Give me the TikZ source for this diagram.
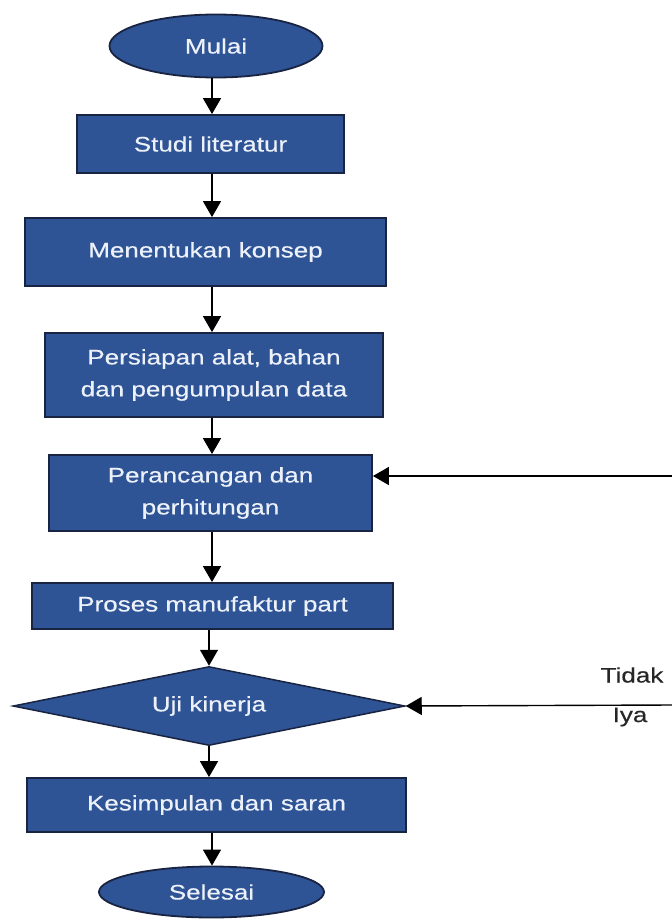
\documentclass[tikz,border=0pt]{standalone}
\usepackage{fontspec}
\setmainfont{Liberation Sans}[FakeStretch=1.24,FakeBold=0.35]
\usetikzlibrary{shapes.geometric,arrows.meta}
\definecolor{boxblue}{RGB}{47,84,150}
\definecolor{boxline}{RGB}{24,36,66}
\definecolor{boxtext}{RGB}{236,241,250}
\begin{document}
\begin{tikzpicture}[x=1pt,y=-1pt,
  every node/.style={font=\fontsize{21}{32}\selectfont},
  proc/.style={rectangle, draw=boxline, line width=1.8pt, fill=boxblue, text=boxtext, inner sep=0pt, align=center},
  term/.style={ellipse, draw=boxline, line width=1.8pt, fill=boxblue, text=boxtext, inner sep=0pt},
  dec/.style={diamond, aspect=4.96, draw=boxline, line width=1.5pt, fill=boxblue, text=boxtext, inner sep=0pt},
  arr/.style={draw=black, line width=1.4pt, -{Triangle[width=18pt,length=16pt]}},
  lab/.style={text=black!85}]
\useasboundingbox (0,0) rectangle (672,921);
\node[term, minimum width=213pt, minimum height=63pt] (mulai) at (216,46) {Mulai};
\node[proc, minimum width=267pt, minimum height=58pt] (studi) at (210.5,144) {Studi literatur};
\node[proc, minimum width=361pt, minimum height=68pt] (konsep) at (205.5,252) {Menentukan konsep};
\node[proc, minimum width=338pt, minimum height=84pt] (persiapan) at (214,375) {Persiapan alat, bahan\\dan pengumpulan data};
\node[proc, minimum width=323pt, minimum height=76pt] (rancang) at (210.5,493) {Perancangan dan\\perhitungan};
\node[proc, minimum width=361pt, minimum height=46pt] (proses) at (212.5,606) {Proses manufaktur part};
\node[dec, minimum width=392pt, minimum height=79pt] (uji) at (209,706) {Uji kinerja};
\node[proc, minimum width=379pt, minimum height=54pt] (simpul) at (216.5,805) {Kesimpulan dan saran};
\node[term, minimum width=225pt, minimum height=51pt] (selesai) at (211.5,892) {Selesai};
\node[lab] (tidak) at (632,675) {Tidak};
\node[lab] (iya) at (630,717) {Iya};
\coordinate (ax) at (212,0);
\coordinate (fb1) at (672,476);
\coordinate (fb2) at (672,705);
\draw[arr] (mulai.south -| ax) -- (studi.north -| ax);
\draw[arr] (studi.south -| ax) -- (konsep.north -| ax);
\draw[arr] (konsep.south -| ax) -- (persiapan.north -| ax);
\draw[arr] (persiapan.south -| ax) -- (rancang.north -| ax);
\draw[arr] (rancang.south -| ax) -- (proses.north -| ax);
\draw[arr] (proses.south -| uji.north) -- (uji.north);
\draw[arr] (uji.south) -- (simpul.north -| uji.south);
\draw[arr] (simpul.south -| ax) -- (selesai.north -| ax);
\draw[arr] (fb1) -- (fb1 -| rancang.east);
\draw[arr] (fb2) -- (uji.east);
\end{tikzpicture}
\end{document}
